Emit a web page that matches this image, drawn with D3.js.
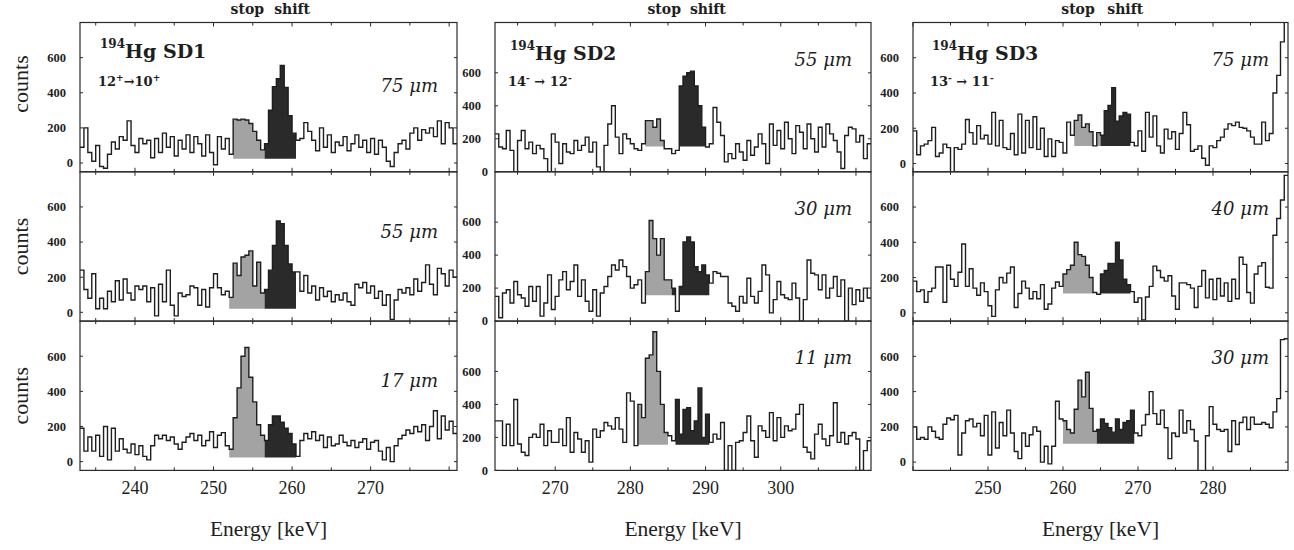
<!DOCTYPE html>
<html>
<head>
<meta charset="utf-8">
<script src="https://cdn.jsdelivr.net/npm/d3@7"></script>
<style>
  body { margin: 0; background: #fff; }
  svg { display: block; }
</style>
</head>
<body>
<svg id="chart" width="1294" height="550"></svg>
<script>
// histogram bins are 0.5 keV wide, counts per bin
const binWidth = 0.5;

// 194Hg SD1, 12+ -> 10+, spectra start at 233 keV
const sd1Start = 233;
const sd1_75um = [
  90, 200, 60, 10, 100, -20, -30, 50, 120, 80,
  150, 130, 240, 100, 60, 140, 110, 130, 30, 140,
  60, 170, 90, 150, 40, 130, 80, 160, 60, 150,
  110, 40, 160, 60, -10, 150, 80, 140, 50, 250,
  245, 250, 245, 225, 180, 130, 75, 110, 300, 435,
  480, 555, 430, 270, 170, 130, 140, 230, 180, 130,
  70, 200, 90, 160, 60, 120, 100, 150, 70, 110,
  160, 90, 130, 60, 140, 50, 130, 90, 10, -20,
  60, 110, 130, 80, 170, 200, 130, 190, 170, 200,
  150, 240, 110, 230, 200, 110
];
const sd1_55um = [
  240, 130, 80, 220, 20, 80, 20, 120, 60, 180,
  70, 190, 110, 70, 150, 130, 150, 60, 140, -20,
  160, 60, 240, 40, -20, 110, 90, 100, 150, 140,
  40, 130, 30, 140, 220, 140, 100, 120, 85, 280,
  210, 315, 325, 350, 150, 285, 110, 130, 240, 380,
  520, 505, 380, 275, 230, 230, 120, 210, 110, 150,
  70, 140, 90, 120, 60, 100, 70, 110, 60, 40,
  160, 140, 170, 110, 150, 80, 120, 40, 100, -40,
  70, 130, 110, 140, 100, 190, 120, 170, 270, 160,
  100, 250, 220, 150, 240, 200
];
const sd1_17um = [
  190, 60, 140, 60, 150, 30, 200, 10, 190, 60,
  130, 70, 50, 100, 40, 90, 30, 10, 90, 150,
  130, 150, 120, 140, 100, 70, 110, 140, 160, 120,
  150, 90, 120, 170, 80, 150, 165, 90, 70, 250,
  420, 600, 650, 480, 340, 210, 150, 120, 210, 260,
  260, 225, 190, 160, 100, 30, 120, 160, 130, 170,
  120, 150, 80, 140, 90, 100, 150, 110, 90, 120,
  80, 110, 130, 70, 110, 120, 60, 10, 80, 0,
  90, 130, 150, 180, 160, 200, 170, 210, 120, 200,
  290, 130, 260, 180, 230, 160
];

// 194Hg SD2, 14- -> 12-, spectra start at 262 keV
const sd2Start = 262;
const sd2_55um = [
  230, 150, 140, 250, 130, 0, 190, 250, 140, 180,
  110, 160, 140, 80, 0, 230, 180, 50, 170, 120,
  110, 190, 130, 160, 210, 120, 180, 30, 0, 160,
  290, 400, 210, 110, 230, 200, 170, 140, 130, 170,
  310, 310, 270, 320, 190, 140, 140, 110, 130, 520,
  580, 600, 610, 520, 400, 270, 150, 170, 390, 300,
  220, 60, 110, 80, 170, 120, 70, 190, 100, 150,
  230, 170, 50, 290, 160, 250, 140, 300, 200, 110,
  280, 240, 140, 290, 200, 120, 270, 150, 290, 230,
  190, 120, 20, 220, 270, 260, 180, 220, 80, 170
];
const sd2_30um = [
  150, 20, 170, 190, 110, 240, 160, 140, 90, 210,
  120, 210, 30, 110, 280, 70, 150, 250, 300, 190,
  240, 340, 150, 250, 120, 60, 190, 30, 170, 210,
  270, 340, 310, 370, 330, 270, 200, 220, 250, 110,
  300, 610, 500, 400, 500, 250, 250, 200, 60, 210,
  480, 510, 480, 330, 300, 340, 280, 230, 300, 290,
  270, 270, 110, 90, 60, 150, 110, 260, 150, 110,
  180, 340, 280, 50, 130, 240, 160, 140, 130, 230,
  140, 0, 130, 370, 290, 280, 190, 280, 140, 200,
  270, 150, 250, 0, 200, 100, 190, 120, 200, 140
];
const sd2_11um = [
  300, 300, 150, 280, 150, 430, 160, 110, 90, 200,
  220, 200, 280, 150, 240, 170, 170, 250, 150, 320,
  110, 230, 190, 110, 180, 50, 250, 200, 240, 290,
  270, 250, 320, 250, 170, 470, 420, 150, 400, 320,
  680, 700, 840, 600, 400, 230, 210, 180, 430, 220,
  370, 380, 240, 300, 500, 200, 340, 170, 220, 190,
  290, 0, 150, 0, 170, 180, 230, 330, 180, 80,
  270, 240, 200, 350, 180, 320, 200, 270, 240, 250,
  340, 400, 140, 110, 70, 220, 280, 190, 150, 210,
  410, 170, 230, 160, 210, 230, 190, 0, 120, 180
];

// 194Hg SD3, 13- -> 11-, spectra start at 240 keV
const sd3Start = 240;
const sd3_75um = [
  185, 50, 100, 110, 130, 205, 40, 60, 110, 90,
  -60, 90, 80, 110, 250, 175, 110, 215, 140, 160,
  110, 290, 100, 245, 90, 80, 170, 50, 280, 60,
  245, 90, 265, 80, 200, 40, 140, 40, 130, 120,
  60, 235, 160, 245, 275, 205, 225, 180, 100, 175,
  160, 300, 330, 430, 240, 270, 290, 280, 120, 100,
  185, 70, 290, 150, 270, 100, 60, 195, 140, 180,
  80, 170, 290, 220, 70, 80, 100, 30, -10, 100,
  90, 130, 150, 195, 225, 215, 235, 205, 200, 185,
  150, 110, 110, 235, 130, 170, 400, 500, 690, 950
];
const sd3_40um = [
  180, 120, 130, 60, 120, 140, 260, 260, 60, 270,
  190, 150, 230, 390, 150, 250, 140, 100, 170, 120,
  40, -20, 130, 200, 170, 225, 260, 30, 110, 180,
  140, 80, 120, 80, 160, 20, 50, 140, 175, 150,
  220, 245, 270, 400, 330, 320, 270, 200, 115, 105,
  220, 240, 280, 280, 400, 300, 190, 160, 120, 60,
  85, -40, 90, 150, 265, 240, 200, 180, 210, 95,
  20, 170, 170, 160, 140, 30, 150, 240, 85, 190,
  75, 195, 95, 170, 65, 190, 80, 315, 275, 115,
  55, 220, 265, 285, 145, 140, 440, 535, 640, 780
];
const sd3_30um = [
  200, 130, 140, 130, 200, 175, 140, 130, 215, 250,
  240, 265, 40, 165, 235, 245, 200, 220, 150, 265,
  40, 285, 80, 225, 150, 295, 165, 60, 20, 165,
  90, 155, 200, 175, 0, 90, -10, 90, 345, 245,
  235, 185, 165, 300, 465, 370, 510, 305, 175, 185,
  245, 220, 195, 170, 245, 185, 225, 235, 295, 165,
  150, 210, 270, 400, 275, 215, 295, 195, 20, 165,
  145, 295, 165, 235, 185, 120, -60, -50, 150, 315,
  215, 185, 175, 185, 60, 235, 100, 225, 255, 185,
  255, 215, 215, 225, 215, 195, 285, 360, 695, 700
];

// gates (keV) for the stopped and shifted components, and the fill floor (counts)
const sd1Stop = [[252.5, 256.5], [252, 256.5], [252, 256.5]];
const sd1Shift = [[256.5, 260.5], [256.5, 260.5], [256.5, 260.5]];
const sd1Floor = [25, 20, 23];
const sd2Stop = [[282, 286.5], [282, 285.5], [281, 285]];
const sd2Shift = [[286.5, 290], [285.5, 290.5], [286, 290.5]];
const sd2Floor = [153, 156, 156];
const sd3Stop = [[261.5, 265], [260, 264], [260, 264.5]];
const sd3Shift = [[265, 269], [265, 269], [264.5, 269.5]];
const sd3Floor = [99, 110, 104];

const sd1Distances = ["75", "55", "17"];
const sd2Distances = ["55", "30", "11"];
const sd3Distances = ["75", "40", "30"];

const sd1Ticks = [240, 250, 260, 270];
const sd2Ticks = [270, 280, 290, 300];
const sd3Ticks = [250, 260, 270, 280];
const countTicks = [0, 200, 400, 600];

const columns = [
  {
    name: "SD1", start: sd1Start, xDomain: [233, 281], yDomain: [-50, 800],
    spectra: [sd1_75um, sd1_55um, sd1_17um], stop: sd1Stop, shift: sd1Shift,
    floor: sd1Floor, dist: sd1Distances, ticks: sd1Ticks,
    trans: [["12"], ["+", true], ["\u219210"], ["+", true]],
    left: 80, right: 457, titleDx: 20, distDy: [69, 66, 66],
    stopAt: 254.3, shiftAt: 260.0
  },
  {
    name: "SD2", start: sd2Start, xDomain: [262, 312], yDomain: [0, 905],
    spectra: [sd2_55um, sd2_30um, sd2_11um], stop: sd2Stop, shift: sd2Shift,
    floor: sd2Floor, dist: sd2Distances, ticks: sd2Ticks,
    trans: [["14"], ["-", true], [" \u2192 12"], ["-", true]],
    left: 495, right: 871, titleDx: 15, distDy: [43, 43, 43],
    stopAt: 284.5, shiftAt: 290.3
  },
  {
    name: "SD3", start: sd3Start, xDomain: [240, 290], yDomain: [-47, 800],
    spectra: [sd3_75um, sd3_40um, sd3_30um], stop: sd3Stop, shift: sd3Shift,
    floor: sd3Floor, dist: sd3Distances, ticks: sd3Ticks,
    trans: [["13"], ["-", true], [" \u2192 11"], ["-", true]],
    left: 913, right: 1288, titleDx: 19, distDy: [43, 43, 43],
    stopAt: 262.0, shiftAt: 268.3
  }
];

const rowTop = 22.5;
const rowH = 149.3;
const ink = "#1e1e1e";
const stopFill = "#a3a3a3";
const shiftFill = "#2a2a2a";
const serif = "'Liberation Serif', 'Times New Roman', serif";
const wideSerif = "'DejaVu Serif', serif";

const svg = d3.select("#chart");

columns.forEach((col, ci) => {
  const x = d3.scaleLinear().domain(col.xDomain).range([col.left, col.right]);
  const midX = (col.left + col.right) / 2;

  col.spectra.forEach((counts, ri) => {
    const top = rowTop + ri * rowH;
    const bottom = top + rowH;
    const y = d3.scaleLinear().domain(col.yDomain).range([bottom, top]);

    const clipId = `clip-${ci}-${ri}`;
    svg.append("clipPath").attr("id", clipId)
      .append("rect")
        .attr("x", col.left).attr("y", top)
        .attr("width", col.right - col.left).attr("height", rowH);

    const g = svg.append("g").attr("clip-path", `url(#${clipId})`);

    const bins = counts.map((v, i) => ({ e: col.start + i * binWidth, v: v }));
    const floor = col.floor[ri];

    // shaded gates, one stepped area per gate
    const gate = (range, fill) => {
      const inGate = bins.filter(d => d.e >= range[0] - 1e-6 && d.e < range[1] - 1e-6);
      const last = inGate[inGate.length - 1];
      const pts = inGate.concat([{ e: last.e + binWidth, v: last.v }]);
      const area = d3.area()
        .x(d => x(d.e))
        .y0(y(floor))
        .y1(d => y(Math.max(d.v, floor)))
        .curve(d3.curveStepAfter);
      g.append("path")
        .attr("d", area(pts))
        .attr("fill", fill);
    };
    gate(col.stop[ri], stopFill);
    gate(col.shift[ri], shiftFill);

    // step outline
    const pts = bins.map(d => [d.e, d.v]);
    pts.push([col.start + counts.length * binWidth, counts[counts.length - 1]]);
    const line = d3.line()
      .x(d => x(d[0]))
      .y(d => y(d[1]))
      .curve(d3.curveStepAfter);
    g.append("path")
      .attr("d", line(pts))
      .attr("fill", "none")
      .attr("stroke", ink)
      .attr("stroke-width", 1.4);

    // frame
    svg.append("rect")
      .attr("x", col.left).attr("y", top)
      .attr("width", col.right - col.left).attr("height", rowH)
      .attr("fill", "none")
      .attr("stroke", "#2a2a2a")
      .attr("stroke-width", 1.2);

    // energy ticks, every 5 keV, on top and bottom edges
    const eTicks = d3.range(Math.ceil(col.xDomain[0] / 5) * 5, col.xDomain[1], 5);
    eTicks.forEach(t => {
      const len = t % 10 === 0 ? 4 : 3;
      svg.append("line")
        .attr("x1", x(t)).attr("x2", x(t))
        .attr("y1", bottom).attr("y2", bottom - len)
        .attr("stroke", "#2a2a2a").attr("stroke-width", 1);
      svg.append("line")
        .attr("x1", x(t)).attr("x2", x(t))
        .attr("y1", top).attr("y2", top + len)
        .attr("stroke", "#2a2a2a").attr("stroke-width", 1);
    });

    // count ticks and labels
    countTicks.forEach(t => {
      [col.left, col.right].forEach((ex, k) => {
        svg.append("line")
          .attr("x1", ex).attr("x2", k === 0 ? ex + 3 : ex - 3)
          .attr("y1", y(t)).attr("y2", y(t))
          .attr("stroke", "#2a2a2a").attr("stroke-width", 1);
      });
      svg.append("text")
        .attr("x", t === 0 ? col.left - 7 : col.left - 14)
        .attr("y", y(t))
        .attr("dy", "0.35em")
        .attr("text-anchor", "end")
        .attr("font-family", serif)
        .attr("font-weight", 700)
        .attr("font-size", 12.5)
        .attr("fill", ink)
        .text(t);
    });

    // target distance
    svg.append("text")
      .attr("x", col.right - 19)
      .attr("y", top + col.distDy[ri])
      .attr("text-anchor", "end")
      .attr("font-family", wideSerif)
      .attr("font-style", "italic")
      .attr("font-size", 18)
      .attr("fill", ink)
      .text(`${col.dist[ri]} \u03bcm`);

    if (ri === 0) {
      // band title with mass number
      const title = svg.append("text")
        .attr("x", col.left + col.titleDx)
        .attr("y", ci === 0 ? 58 : 60)
        .attr("font-family", wideSerif)
        .attr("font-weight", 700)
        .attr("fill", ink);
      title.append("tspan").attr("font-size", 12).attr("dy", -10).text("194");
      title.append("tspan").attr("font-size", 19).attr("dy", 10).text(`Hg ${col.name}`);

      // spin transition
      const tr = svg.append("text")
        .attr("x", col.left + col.titleDx - 2)
        .attr("y", 86)
        .attr("font-family", wideSerif)
        .attr("font-weight", 700)
        .attr("font-size", 13)
        .attr("fill", ink);
      let raised = false;
      col.trans.forEach(([txt, sup]) => {
        const dy = sup && !raised ? -5 : (!sup && raised ? 5 : 0);
        tr.append("tspan")
          .attr("dy", dy)
          .attr("font-size", sup ? 9 : 13)
          .text(txt);
        raised = !!sup;
      });

      // gate names above the panel
      [["stop", col.stopAt], ["shift", col.shiftAt]].forEach(([label, e]) => {
        svg.append("text")
          .attr("x", x(e))
          .attr("y", 14)
          .attr("text-anchor", "middle")
          .attr("font-family", wideSerif)
          .attr("font-weight", 700)
          .attr("font-size", 14)
          .attr("fill", ink)
          .text(label);
      });
    }

    if (ri === 2) {
      col.ticks.forEach(t => {
        svg.append("text")
          .attr("x", x(t))
          .attr("y", bottom + 24)
          .attr("text-anchor", "middle")
          .attr("font-family", serif)
          .attr("font-size", 18)
          .attr("fill", ink)
          .text(t);
      });
      svg.append("text")
        .attr("x", midX)
        .attr("y", 536)
        .attr("text-anchor", "middle")
        .attr("font-family", serif)
        .attr("font-size", 21.5)
        .attr("fill", ink)
        .text("Energy [keV]");
    }

    if (ci === 0) {
      const cy = ri === 0 ? 84 : top + rowH / 2;
      svg.append("text")
        .attr("transform", `translate(28,${cy}) rotate(-90)`)
        .attr("text-anchor", "middle")
        .attr("font-family", serif)
        .attr("font-size", 22)
        .attr("fill", ink)
        .text("counts");
    }
  });
});
</script>
</body>
</html>
